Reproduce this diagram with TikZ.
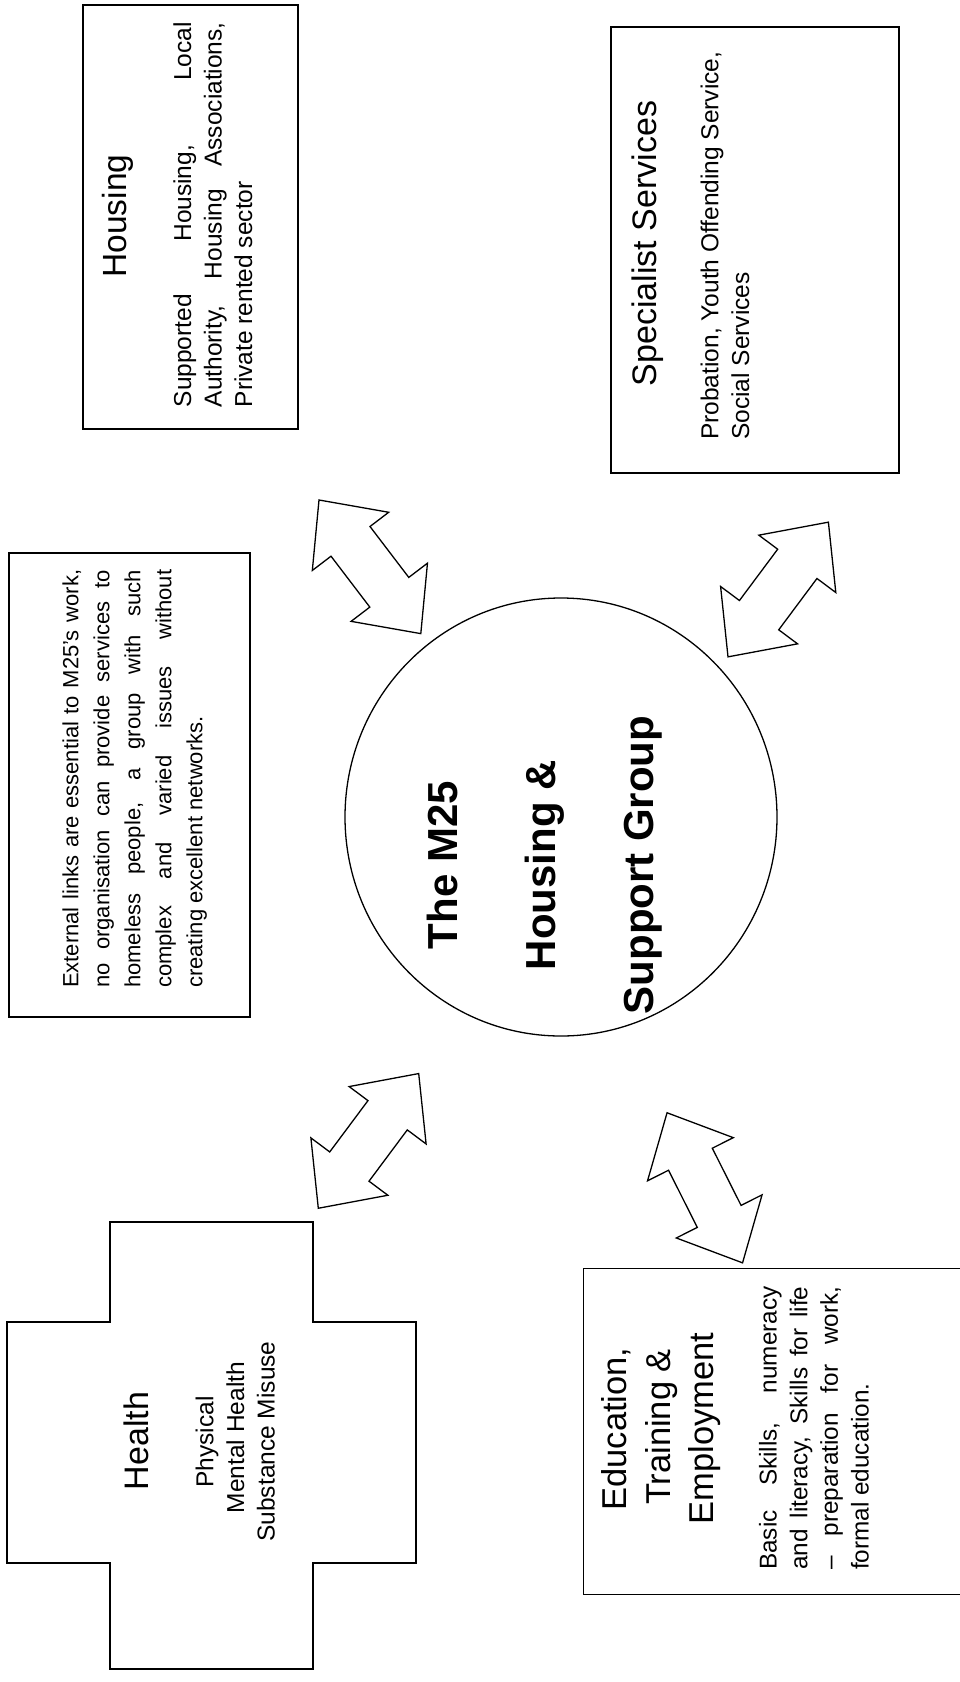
\documentclass[tikz,border=0pt]{standalone}
\usepackage{fontspec}
\setmainfont{Liberation Sans}
\usetikzlibrary{shapes.geometric}
\tikzset{
  ink/.style={line width=1.3pt, draw=black},
  box/.style={ink, rectangle, inner sep=0pt},
  rt/.style={rotate=90, inner sep=0pt, anchor=base west},
  rc/.style={rotate=90, inner sep=0pt, anchor=base},
  ttl/.style={font=\fontsize{34}{40}\selectfont},
  bdy/.style={font=\fontsize{24.5}{30}\selectfont},
  sml/.style={font=\fontsize{22}{27}\selectfont},
  big/.style={font=\fontsize{42}{50}\selectfont\bfseries},
  dblarrow/.pic={
    \draw[ink, line join=miter, fill=white]
      (-84,0) -- (-32,48) -- (-32,24.5) -- (32,24.5) -- (32,48) -- (84,0)
      -- (32,-48) -- (32,-24.5) -- (-32,-24.5) -- (-32,-48) -- cycle;
  }
}
\begin{document}
\begin{tikzpicture}[x=1pt, y=-1pt]
\useasboundingbox[fill=white] (0,0) rectangle (960,1682);

% ---------- central ellipse ----------
\node[ink, ellipse, minimum width=432pt, minimum height=438pt, inner sep=0pt] (m25) at (561,817) {};
\node[rc, big] (m25a) at (457,865) {The M25};
\node[rc, big] (m25b) at (555,865) {Housing \&};
\node[rc, big] (m25c) at (653,865) {Support Group};

% ---------- Housing ----------
\node[box, minimum width=215pt, minimum height=424pt] (housing) at (190.5,217) {};
\node[rc, ttl, font=\fontsize{33.5}{40}\selectfont] (housingT) at (126,216) {Housing};
\node[rt, bdy] (housing1) at (191,407.5) {\makebox[385pt][s]{Supported Housing, Local}};
\node[rt, bdy] (housing2) at (221.7,407.5) {\makebox[385pt][s]{Authority, Housing Associations,}};
\node[rt, bdy] (housing3) at (252,407.5) {Private rented sector};

% ---------- Specialist Services ----------
\node[box, minimum width=288pt, minimum height=446pt] (spec) at (755,250) {};
\node[rc, ttl] (specT) at (656,243.5) {Specialist Services};
\node[rt, bdy] (spec1) at (718.3,440) {Probation, Youth Offending Service,};
\node[rt, bdy] (spec2) at (749,440) {Social Services};

% ---------- External links text box ----------
\node[box, minimum width=241pt, minimum height=464pt] (ext) at (129.5,785) {};
\node[rt, sml] (ext1) at (78.3,988) {\makebox[418pt][s]{External links are essential to M25's work,}};
\node[rt, sml] (ext2) at (109.3,988) {\makebox[418pt][s]{no organisation can provide services to}};
\node[rt, sml] (ext3) at (140.3,988) {\makebox[418pt][s]{homeless people, a group with such}};
\node[rt, sml] (ext4) at (171.3,988) {\makebox[418pt][s]{complex and varied issues without}};
\node[rt, sml] (ext5) at (202.3,988) {creating excellent networks.};

% ---------- Health cross ----------
\coordinate (healthC) at (211.5,1445.5);
\draw[ink, line join=miter] (110,1222) -- (313,1222) -- (313,1322) -- (416,1322) -- (416,1563)
  -- (313,1563) -- (313,1669) -- (110,1669) -- (110,1563) -- (7,1563) -- (7,1322) -- (110,1322) -- cycle;
\node[rc, ttl] (healthT) at (148.3,1441) {Health};
\node[rc, bdy] (health1) at (213.3,1442) {Physical};
\node[rc, bdy] (health2) at (244,1437.5) {Mental Health};
\node[rc, bdy] (health3) at (274.5,1441.5) {Substance Misuse};

% ---------- Education, Training & Employment ----------
\node[inner sep=0pt, minimum width=376pt, minimum height=325pt] (edu) at (772,1431.5) {};
\draw[ink, line join=miter] (edu.north east) -- (edu.north west) -- (edu.south west) -- (edu.south east);
\node[rc, ttl, font=\fontsize{34.5}{40}\selectfont] (eduT1) at (626.7,1429) {Education,};
\node[rc, ttl, font=\fontsize{34.5}{40}\selectfont] (eduT2) at (670,1427) {Training \&};
\node[rc, ttl, font=\fontsize{34.5}{40}\selectfont] (eduT3) at (713.3,1428.3) {Employment};
\node[rt, bdy, font=\fontsize{24.3}{30}\selectfont] (edu1) at (776.7,1570) {\makebox[283.3pt][s]{Basic Skills, numeracy}};
\node[rt, bdy, font=\fontsize{24.3}{30}\selectfont] (edu2) at (807.3,1570) {\makebox[283.3pt][s]{and literacy, Skills for life}};
\node[rt, bdy, font=\fontsize{24.3}{30}\selectfont] (edu3) at (837.9,1570) {\makebox[283.3pt][s]{– preparation for work,}};
\node[rt, bdy, font=\fontsize{24.3}{30}\selectfont] (edu4) at (868.5,1570) {formal education.};

% ---------- double block arrows ----------
\coordinate (arrHousing) at (369.9,566.8);
\coordinate (arrSpec) at (778.2,589.5);
\coordinate (arrHealth) at (368.5,1140.9);
\coordinate (arrEdu) at (704.8,1187.8);
\pic[rotate=-52.7] at (arrHousing) {dblarrow};
\pic[rotate=53.3] at (arrSpec) {dblarrow};
\pic[rotate=53.3] at (arrHealth) {dblarrow};
\pic[rotate=-63.3] at (arrEdu) {dblarrow};
\end{tikzpicture}
\end{document}
